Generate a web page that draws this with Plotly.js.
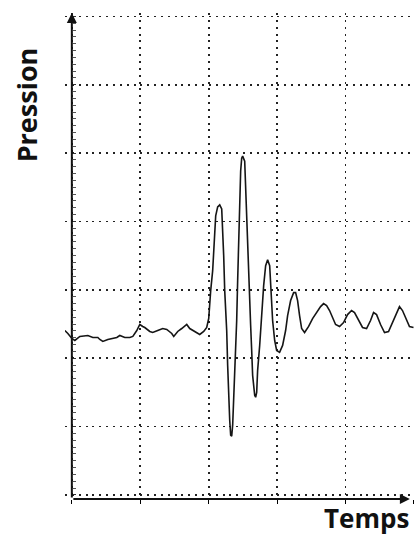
<!DOCTYPE html>
<html>
<head>
<meta charset="utf-8">
<script src="https://cdn.plot.ly/plotly-3.0.1.min.js"></script>
<style>
  html, body { margin: 0; padding: 0; background: #fff; }
  #chart { width: 414px; height: 538px; }
</style>
</head>
<body>
<div id="chart"></div>
<script>
// Time (grid units) and pressure (grid units)
var temps = [
  -0.102, -0.058, 0, 0.044, 0.117, 0.234, 0.307, 0.380, 0.409, 0.453,
  0.526, 0.599, 0.657, 0.701, 0.774, 0.847, 0.891, 0.949, 0.993, 1.036,
  1.066, 1.139, 1.182, 1.255, 1.328, 1.387, 1.460, 1.489, 1.547, 1.606,
  1.679, 1.723, 1.796, 1.869, 1.927, 1.971, 2.000, 2.015, 2.029, 2.058,
  2.073, 2.102, 2.131, 2.161, 2.190, 2.204, 2.219, 2.234, 2.263, 2.277,
  2.292, 2.307, 2.321, 2.336, 2.350, 2.365, 2.394, 2.409, 2.423, 2.438,
  2.453, 2.467, 2.482, 2.496, 2.526, 2.540, 2.555, 2.569, 2.584, 2.599,
  2.613, 2.628, 2.642, 2.672, 2.686, 2.701, 2.715, 2.745, 2.774, 2.803,
  2.832, 2.861, 2.891, 2.905, 2.920, 2.934, 2.964, 2.993, 3.036, 3.080,
  3.124, 3.153, 3.197, 3.241, 3.270, 3.299, 3.328, 3.358, 3.401, 3.460,
  3.518, 3.577, 3.635, 3.679, 3.723, 3.766, 3.810, 3.854, 3.912, 3.971,
  4.029, 4.088, 4.131, 4.190, 4.248, 4.307, 4.365, 4.409, 4.453, 4.511,
  4.569, 4.628, 4.686, 4.745, 4.788, 4.832, 4.891, 4.934, 4.993
];
var pression = [
  2.405, 2.362, 2.289, 2.259, 2.318, 2.332, 2.303, 2.303, 2.274, 2.245,
  2.274, 2.289, 2.303, 2.332, 2.303, 2.303, 2.318, 2.405, 2.493, 2.464,
  2.449, 2.391, 2.376, 2.405, 2.434, 2.420, 2.362, 2.318, 2.391, 2.434,
  2.493, 2.434, 2.391, 2.347, 2.391, 2.449, 2.580, 2.843, 2.988, 3.280,
  3.644, 4.082, 4.213, 4.242, 4.184, 3.936, 3.499, 2.988, 2.405, 1.895,
  1.385, 1.093, 0.875, 0.860, 1.020, 1.385, 1.968, 2.551, 3.134, 3.717,
  4.300, 4.738, 4.927, 4.956, 4.883, 4.446, 4.009, 3.571, 3.134, 2.843,
  2.478, 2.114, 1.749, 1.458, 1.429, 1.501, 1.822, 2.187, 2.697, 3.061,
  3.353, 3.440, 3.353, 3.134, 2.843, 2.551, 2.259, 2.114, 2.085, 2.187,
  2.405, 2.624, 2.843, 2.959, 2.959, 2.843, 2.624, 2.434, 2.376, 2.464,
  2.580, 2.668, 2.755, 2.799, 2.770, 2.697, 2.580, 2.493, 2.464, 2.522,
  2.638, 2.697, 2.668, 2.551, 2.449, 2.434, 2.551, 2.668, 2.638, 2.493,
  2.376, 2.391, 2.522, 2.682, 2.755, 2.697, 2.551, 2.464, 2.449
];
var labelY = "Pression";
var labelX = "Temps";

var dotDash = "2px,4.85px";
var gridCol = "#222222";

var trace = {
  x: temps, y: pression, type: "scatter", mode: "lines",
  line: { color: "#151515", width: 1.6 },
  hoverinfo: "skip", cliponaxis: false
};

var layout = {
  width: 414, height: 538,
  margin: { l: 65, r: 0, t: 13, b: 39, pad: 0 },
  paper_bgcolor: "#ffffff", plot_bgcolor: "#ffffff",
  showlegend: false,
  xaxis: {
    range: [-0.1, 5.0], tick0: 0, dtick: 1,
    showgrid: true, gridcolor: gridCol, gridwidth: 1.6, griddash: dotDash,
    zeroline: false, showline: false,
    ticks: "outside", ticklen: 4, tickwidth: 1.2, tickcolor: "#000",
    showticklabels: false, fixedrange: true
  },
  yaxis: {
    range: [-0.06, 7.05], tick0: 0, dtick: 1,
    anchor: "free", position: 0.0201,
    showgrid: true, gridcolor: gridCol, gridwidth: 1.6, griddash: dotDash,
    zeroline: false, showline: false,
    ticks: "inside", ticklen: 3, tickwidth: 1, tickcolor: "#333",
    minor: { dtick: 0.1, tick0: 0, ticks: "inside", ticklen: 2.5, tickwidth: 1, tickcolor: "#555", showgrid: false },
    showticklabels: false, fixedrange: true
  },
  annotations: [
    { x: 0, y: 7.05, xref: "x", yref: "y", ax: 0, ay: -0.06, axref: "x", ayref: "y",
      text: "", showarrow: true, arrowhead: 2, arrowsize: 1, arrowwidth: 2, arrowcolor: "#111", standoff: 0, startstandoff: 0 },
    { x: 4.94, y: -0.06, xref: "x", yref: "y", ax: 0, ay: -0.06, axref: "x", ayref: "y",
      text: "", showarrow: true, arrowhead: 2, arrowsize: 1, arrowwidth: 2, arrowcolor: "#111", standoff: 0, startstandoff: 0 },
    { text: labelY, xref: "paper", yref: "paper", x: -0.1117, y: 0.81,
      xanchor: "center", yanchor: "middle", textangle: -90, showarrow: false,
      font: { family: "Open Sans", size: 27, color: "#111", weight: 700 } },
    { text: labelX, xref: "paper", yref: "paper", x: 0.99, y: -0.04,
      xanchor: "right", yanchor: "middle", showarrow: false,
      font: { family: "Open Sans", size: 26, color: "#111", weight: 700 } }
  ]
};

Plotly.newPlot("chart", [trace], layout, { displayModeBar: false, staticPlot: true });
</script>
</body>
</html>
